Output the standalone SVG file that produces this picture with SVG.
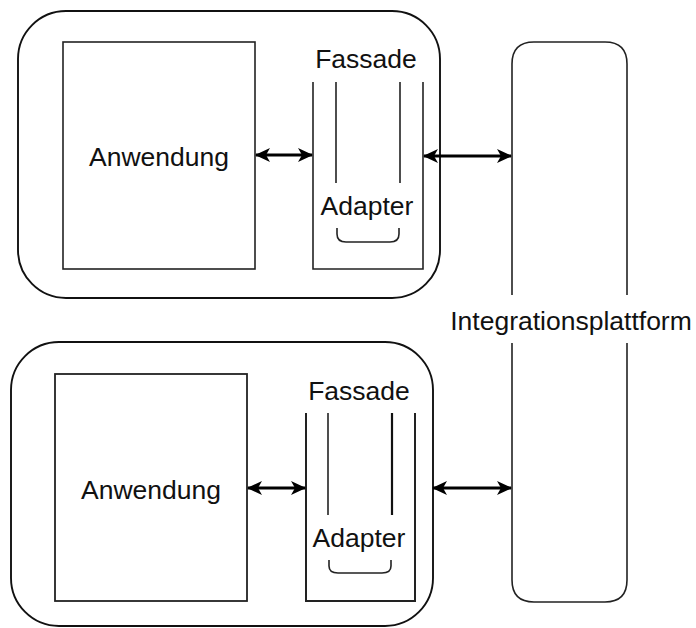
<svg xmlns="http://www.w3.org/2000/svg" width="696" height="628" viewBox="0 0 696 628">
<style>
.ln{fill:none;stroke:#222;stroke-width:1.6}
.thk{fill:none;stroke:#111;stroke-width:1.9}
.t{font-family:"Liberation Sans",Arial,sans-serif;font-size:26.5px;fill:#111;text-anchor:middle}
.arr{stroke:#000;stroke-width:3.2;fill:none;marker-start:url(#ah);marker-end:url(#ah)}
</style>
<defs>
<marker id="ah" viewBox="0 0 15 15" refX="14" refY="7.5" markerWidth="15" markerHeight="15" markerUnits="userSpaceOnUse" orient="auto-start-reverse">
<path d="M0,0.5 L15,7.5 L0,14.5 L4,7.5 Z" fill="#000"/>
</marker>
</defs>
<rect width="696" height="628" fill="#fff"/>
<g id="system1">
<rect class="thk" x="18" y="11" width="422" height="287" rx="48" ry="48"/>
</g>
<g id="anwendung1">
<rect class="ln" x="63" y="42" width="192" height="227"/>
<text class="t" x="159" y="166">Anwendung</text>
</g>
<g id="fassade1">
<path class="ln" d="M313,82 V269 H423 V82"/>
<path class="ln" d="M336,82 V183 M400,82 V183"/>
<text class="t" x="366" y="68">Fassade</text>
<text class="t" x="367" y="215">Adapter</text>
<path class="ln" d="M337,228 V234 Q337,242 346,242 H390 Q399,242 399,234 V228"/>
</g>
<g id="system2">
<rect class="thk" x="11" y="342" width="422" height="284" rx="48" ry="48"/>
</g>
<g id="anwendung2">
<rect class="ln" x="55" y="374" width="192" height="227" style="stroke-width:1.8"/>
<text class="t" x="151" y="499">Anwendung</text>
</g>
<g id="fassade2">
<path class="ln" d="M306,413 V601 H415 V413" style="stroke-width:2"/>
<path class="ln" d="M328,413 V515"/>
<path class="thk" d="M392,413 V515" style="stroke-width:2.2"/>
<text class="t" x="359" y="400">Fassade</text>
<text class="t" x="359" y="547">Adapter</text>
<path class="ln" d="M329,560 V566 Q329,573 338,573 H382 Q391,573 391,566 V560"/>
</g>
<g id="integrationsplattform">
<path class="ln" d="M512,295 V64 Q512,42 534,42 H605 Q627,42 627,64 V295"/>
<path class="ln" d="M512,343 V580 Q512,602 534,602 H605 Q627,602 627,580 V343"/>
<text class="t" x="571" y="330">Integrationsplattform</text>
</g>
<g id="connectors">
<line class="arr" x1="256" y1="155" x2="312" y2="155"/>
<line class="arr" x1="424" y1="156" x2="511" y2="156"/>
<line class="arr" x1="248" y1="488" x2="305" y2="488"/>
<line class="arr" x1="433" y1="488" x2="511" y2="488"/>
</g>
</svg>
